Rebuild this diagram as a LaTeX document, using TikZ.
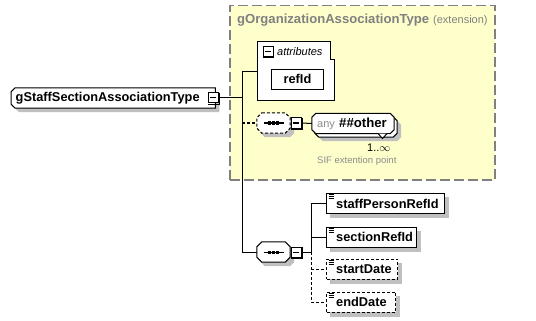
\documentclass[tikz,border=0pt]{standalone}
\usepackage{fontspec}
\setmainfont{Liberation Sans}
\definecolor{ylw}{HTML}{FFFFCC}
\definecolor{bgray}{HTML}{808080}
\definecolor{shd}{HTML}{C0C0C0}
\definecolor{lgray}{HTML}{8C8C8C}
\pgfdeclarelayer{bglayer}
\pgfdeclarelayer{shlayer}
\pgfsetlayers{bglayer,shlayer,main}
% octagon outline around node #1, chamfer #2, shifted by #3 right and #4 down (numbers in pt)
\newcommand\octoall[4]{([xshift=#3pt+#2pt,yshift=-#4pt]#1.north west) -- ([xshift=#3pt-#2pt,yshift=-#4pt]#1.north east) -- ([xshift=#3pt,yshift=-#4pt-#2pt]#1.north east) -- ([xshift=#3pt,yshift=-#4pt+#2pt]#1.south east) -- ([xshift=#3pt-#2pt,yshift=-#4pt]#1.south east) -- ([xshift=#3pt+#2pt,yshift=-#4pt]#1.south west) -- ([xshift=#3pt,yshift=-#4pt+#2pt]#1.south west) -- ([xshift=#3pt,yshift=-#4pt-#2pt]#1.north west) -- cycle}
\newcommand\octoleft[4]{([xshift=#3pt+#2pt,yshift=-#4pt]#1.north west) -- ([xshift=#3pt,yshift=-#4pt]#1.north east) -- ([xshift=#3pt,yshift=-#4pt]#1.south east) -- ([xshift=#3pt+#2pt,yshift=-#4pt]#1.south west) -- ([xshift=#3pt,yshift=-#4pt+#2pt]#1.south west) -- ([xshift=#3pt,yshift=-#4pt-#2pt]#1.north west) -- cycle}
\newcommand\rectshadow[1]{\begin{pgfonlayer}{shlayer}\fill[shd] ([xshift=4pt,yshift=-4pt]#1.north west) rectangle ([xshift=4pt,yshift=-4pt]#1.south east);\end{pgfonlayer}}
\newcommand\octoshadow[1]{\begin{pgfonlayer}{shlayer}\fill[shd] \octoall{#1}{4}{4}{4};\end{pgfonlayer}}
\newcommand\mybtn[2]{%
  \node[minusbox] (#1) at #2 {};
  \draw[line width=1pt] ([xshift=1pt,yshift=-0.5pt]#1.north east) -- ([xshift=1pt,yshift=-1pt]#1.south east) -- ([xshift=0.5pt,yshift=-1pt]#1.south west);}
\newcommand\elicon[1]{%
  \foreach \k in {1.5,3.5,5.5}{\draw[line width=0.8pt] ([xshift=2.5pt,yshift=-\k pt]#1.north west) -- ([xshift=8pt,yshift=-\k pt]#1.north west);}}
\newcommand\seqicon[1]{%
  \draw[line width=1pt] ([xshift=-10pt]#1.center) -- ([xshift=10pt]#1.center);
  \foreach \d in {-4,0,4}{\fill ([xshift=\d pt-1.5pt,yshift=-1.5pt]#1.center) rectangle ([xshift=\d pt+1.5pt,yshift=1.5pt]#1.center);}}
\begin{document}
\begin{tikzpicture}[x=1pt,y=-1pt,
  bfont/.style={font=\fontsize{12.8}{15}\selectfont\bfseries},
  elem/.style={draw,line width=1pt,fill=white,rectangle,minimum height=20pt,inner sep=0,anchor=west},
  optelem/.style={elem,dash pattern=on 3pt off 2pt},
  lbl/.style={bfont,inner sep=0,anchor=base west},
  minusbox/.style={draw,line width=1pt,fill=white,minimum size=10pt,inner sep=0,
    path picture={\draw[line width=1pt] ([xshift=2pt]path picture bounding box.west) -- ([xshift=-2pt]path picture bounding box.east);}},
  box/.style={rectangle,inner sep=0,minimum height=20pt},
  conn/.style={line width=1pt},
  dconn/.style={line width=1pt,dash pattern=on 3pt off 2pt},
]
\useasboundingbox (0,0) rectangle (536,321);

% extension box
\begin{pgfonlayer}{bglayer}
\node[draw=bgray,fill=ylw,line width=1.5pt,dash pattern=on 10pt off 4pt,rectangle,
  minimum width=265pt,minimum height=174pt,inner sep=0,anchor=north west] (ext) at (229,5) {};
\end{pgfonlayer}
\node[lbl,text=bgray,font=\fontsize{13.1}{15}\selectfont\bfseries] (extt) at (237,24) {gOrganizationAssociationType};
\node[inner sep=0,anchor=base west,text=bgray,font=\fontsize{11}{13}\selectfont] (extk) at (433,24) {(extension)};

% main node
\node[box,minimum width=204pt,anchor=west] (main) at (11,98) {};
\begin{pgfonlayer}{shlayer}\fill[shd] \octoleft{main}{4}{4}{4};\end{pgfonlayer}
\draw[line width=1pt,fill=white] \octoleft{main}{4}{0}{0};
\node[lbl] (maint) at (15.5,102) {gStaffSectionAssociationType};
\mybtn{mainm}{(213,98)}

% attributes box
\node[rectangle,inner sep=0,minimum width=77pt,minimum height=58pt,anchor=north west] (attr) at (257,42) {};
\draw[line width=1pt,fill=white] (attr.north west) -- ([xshift=-4pt]attr.north east) -- ([xshift=-4pt,yshift=-18pt]attr.north east)
  -- ([yshift=-18pt]attr.north east) -- (attr.south east) -- (attr.south west) -- cycle;
\node[minusbox] (attrm) at (268,52) {};
\draw[line width=1pt] (273.5,47.5) -- (273.5,57.5) -- (263,57.5);
\node[inner sep=0,anchor=base west,font=\fontsize{11}{13}\selectfont\itshape] (attrt) at (277,56) {attributes};
\node[elem,minimum width=52pt] (refid) at (271,79.5) {};
\rectshadow{refid}
\node[lbl,anchor=base] (refidt) at (refid.center |- 0,84) {refId};

% any sequence (optional)
\node[box,minimum width=33pt] (seqa) at (273.5,123) {};
\octoshadow{seqa}
\draw[line width=1pt,fill=white,dash pattern=on 3pt off 2pt] \octoall{seqa}{5}{0}{0};
\seqicon{seqa}
\mybtn{seqam}{(296,123)}

% any wildcard
\node[box,minimum width=82pt] (anyb) at (356,127) {};
\octoshadow{anyb}
\draw[line width=1pt,fill=white] \octoall{anyb}{4}{0}{0};
\node[box,minimum width=82pt] (anyf) at (353,123.5) {};
\draw[line width=1pt,fill=white] \octoall{anyf}{4}{0}{0};
\draw[line width=1pt,fill=white] (378,133.5) -- (382.5,138.5) -- (387,133.5);
\node[inner sep=0,anchor=base west,text=lgray,font=\fontsize{11}{13}\selectfont] (anyt) at (317,128) {any};
\node[lbl,font=\fontsize{13.2}{15}\selectfont\bfseries] (othert) at (339,128) {\#\#other};
\node[inner sep=0,anchor=base west,font=\fontsize{11}{13}\selectfont] (occ) at (367,151) {1..$\infty$};
\node[inner sep=0,anchor=base west,text=lgray,font=\fontsize{9.5}{11}\selectfont] (sif) at (317,163) {SIF extention point};

% main sequence
\node[box,minimum width=33pt] (seqb) at (273.5,252) {};
\octoshadow{seqb}
\draw[line width=1pt,fill=white] \octoall{seqb}{5}{0}{0};
\seqicon{seqb}
\mybtn{seqbm}{(296,252)}

% elements
\node[elem,minimum width=118pt] (spr) at (326,203.5) {};
\rectshadow{spr}
\node[lbl] (sprt) at (336,208) {staffPersonRefId};
\elicon{spr}
\node[elem,minimum width=90pt] (sec) at (326,237) {};
\rectshadow{sec}
\node[lbl] (sect) at (336,241.5) {sectionRefId};
\elicon{sec}
\node[optelem,minimum width=71pt] (sd) at (326,269) {};
\rectshadow{sd}
\node[lbl] (sdt) at (336,273.5) {startDate};
\elicon{sd}
\node[optelem,minimum width=69pt] (ed) at (326,302) {};
\rectshadow{ed}
\node[lbl] (edt) at (336,306.5) {endDate};
\elicon{ed}

% connectors
\coordinate (j1) at (242,98);
\coordinate (j2) at (311,252);
\draw[conn] (mainm.east) -- (j1);
\draw[conn] (attr.west) -- (attr.west -| j1) -- (j1 |- seqb.west) -- (seqb.west);
\draw[dconn] (j1 |- seqa.west) -- (seqa.west);
\draw[conn] (seqam.east) -- (anyf.west);
\draw[conn] (seqbm.east) -- (j2);
\draw[conn] (spr.west) -- (spr.west -| j2) -- (j2);
\draw[conn] (sec.west) -- (sec.west -| j2);
\draw[dconn] (j2) -- (j2 |- ed.west) -- (ed.west);
\draw[dconn] (sd.west -| j2) -- (sd.west);
\end{tikzpicture}
\end{document}
